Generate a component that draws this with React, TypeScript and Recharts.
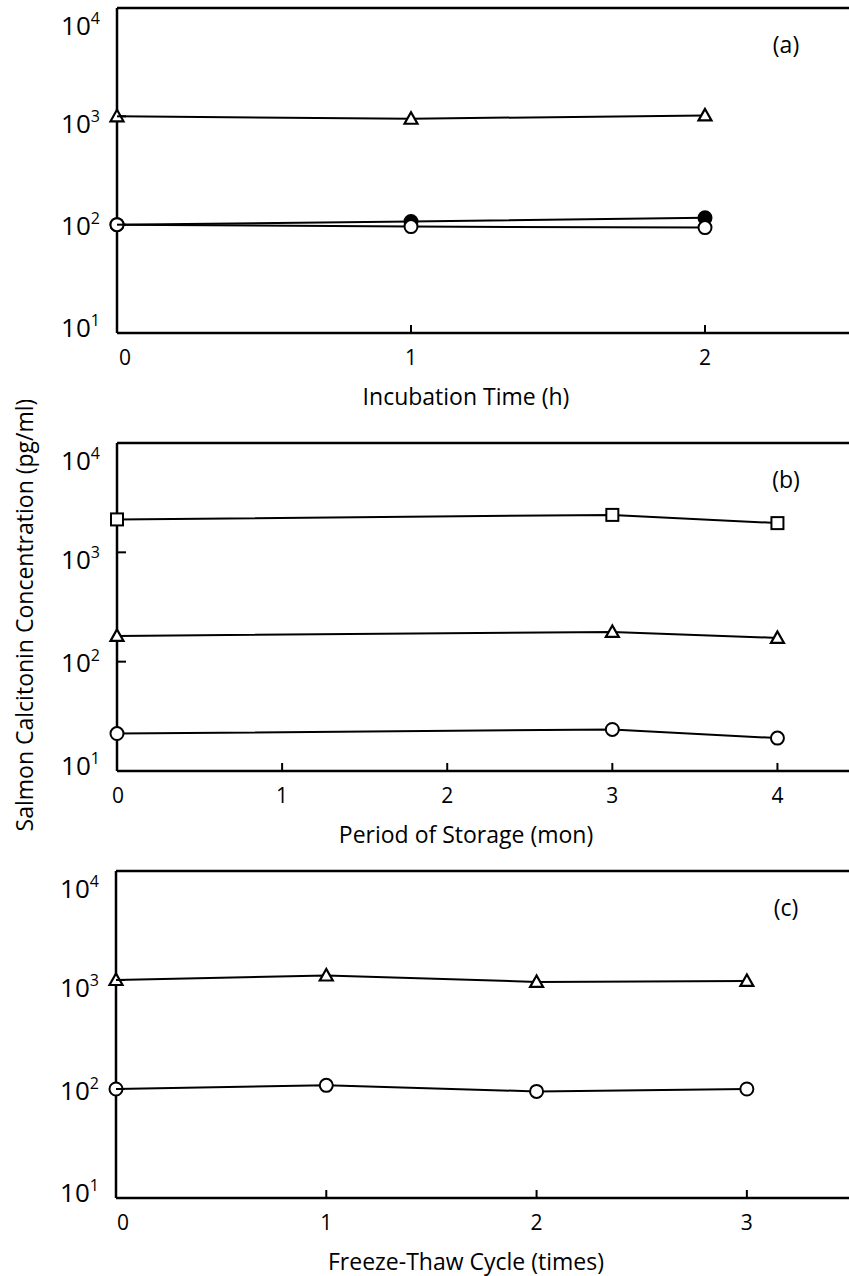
import React from "react";
import {
  Label,
  Line,
  LineChart,
  ReferenceLine,
  XAxis,
  YAxis,
} from "recharts";

// (a) incubation
const incubHours = [0, 1, 2];
const incubTriangle = [1000, 950, 1020];
const incubFilled = [100, 107, 116];
const incubOpen = [100, 96, 94];
const incubTicks = [0, 1, 2];

// (b) storage
const storageMonths = [0, 3, 4];
const storageSquare = [2000, 2200, 1850];
const storageTriangle = [172, 187, 165];
const storageCircle = [22, 24, 20];
const storageTicks = [0, 1, 2, 3, 4];

// (c) freeze-thaw
const thawCycles = [0, 1, 2, 3];
const thawTriangle = [1000, 1100, 960, 980];
const thawCircle = [100, 108, 95, 100];
const thawTicks = [0, 1, 2, 3];

const decadeTicks = [10, 100, 1000, 10000];

const FONT = "'Open Sans', 'DejaVu Sans', sans-serif";
const INK = "#000";

// the printed decade labels sit a little off their ticks
const labelNudge: Record<number, number> = { 10000: 17, 1000: 7, 100: 1, 10: -6 };

type Kind = "circle" | "filled" | "triangle" | "square";

function Marker({ cx, cy, kind }: { cx: number; cy: number; kind: Kind }) {
  if (cx == null || cy == null) return null;
  if (kind === "triangle") {
    return (
      <polygon
        points={`${cx},${cy - 6.5} ${cx - 6.5},${cy + 5} ${cx + 6.5},${cy + 5}`}
        fill="#fff"
        stroke={INK}
        strokeWidth={2.2}
        strokeLinejoin="miter"
      />
    );
  }
  if (kind === "square") {
    return (
      <rect x={cx - 6} y={cy - 6} width={12} height={12} fill="#fff" stroke={INK} strokeWidth={2} />
    );
  }
  return (
    <circle
      cx={cx}
      cy={cy}
      r={6.5}
      fill={kind === "filled" ? INK : "#fff"}
      stroke={INK}
      strokeWidth={2}
    />
  );
}

const dotOf = (kind: Kind) => (p: any) => (
  <Marker key={`${kind}-${p.index}`} cx={p.cx} cy={p.cy} kind={kind} />
);

function DecadeTick({ x, y, payload }: any) {
  const v = payload.value as number;
  const exp = Math.round(Math.log10(v));
  const inner = v > 10 && v < 10000;
  const base = y + (labelNudge[v] ?? 0) + 9.5;
  return (
    <g>
      {inner && <line x1={x} x2={x + 9} y1={y} y2={y} stroke={INK} strokeWidth={2} />}
      <text x={x - 17} y={base} textAnchor="end" fill={INK} fontFamily={FONT} fontSize={26}>
        <tspan>10</tspan>
        <tspan dy={-11} fontSize={16}>
          {exp}
        </tspan>
      </text>
    </g>
  );
}

const xTickOf = (zeroShift: number) => (props: any) => {
  const { x, y, payload } = props;
  const v = payload.value as number;
  return (
    <g key={`xt-${v}`}>
      {v !== 0 && <line x1={x} x2={x} y1={y} y2={y - 8} stroke={INK} strokeWidth={2} />}
      <text
        x={x + (v === 0 ? zeroShift : 0)}
        y={y + 32}
        textAnchor="middle"
        fill={INK}
        fontFamily={FONT}
        fontSize={21}
      >
        {v}
      </text>
    </g>
  );
};

const axisTitle = (text: string) => (p: any) => {
  const vb = p.viewBox || {};
  return (
    <text x={466} y={(vb.y ?? 0) + 72} textAnchor="middle" fill={INK} fontFamily={FONT} fontSize={23}>
      {text}
    </text>
  );
};

const panelTag = (tag: string) => (p: any) => {
  const vb = p.viewBox || {};
  return (
    <text x={786} y={(vb.y ?? 0) + 45} textAnchor="middle" fill={INK} fontFamily={FONT} fontSize={23}>
      {tag}
    </text>
  );
};

type SeriesDef = { key: string; kind: Kind };

function Panel({
  rows,
  series,
  xMax,
  xTicks,
  width,
  height,
  top,
  plotH,
  axisW,
  title,
  tag,
  zeroShift,
  yTitle,
}: {
  rows: any[];
  series: SeriesDef[];
  xMax: number;
  xTicks: number[];
  width: number;
  height: number;
  top: number;
  plotH: number;
  axisW: number;
  title: string;
  tag: string;
  zeroShift: number;
  yTitle?: string;
}) {
  const extra = 16;
  return (
    <LineChart
      width={width}
      height={height + extra}
      data={rows}
      margin={{ top, right: 0, left: 0, bottom: extra }}
    >
      <XAxis
        dataKey="x"
        type="number"
        domain={[0, xMax]}
        ticks={xTicks}
        height={height - top - plotH}
        axisLine={{ stroke: INK, strokeWidth: 2.5 }}
        tickLine={false}
        tickSize={0}
        tickMargin={0}
        tick={xTickOf(zeroShift)}
        interval={0}
      >
        <Label content={axisTitle(title)} />
      </XAxis>
      <YAxis
        type="number"
        scale="log"
        domain={[10, 10000]}
        ticks={decadeTicks}
        width={axisW}
        axisLine={{ stroke: INK, strokeWidth: 2.5 }}
        tickLine={false}
        tickSize={0}
        tickMargin={0}
        tick={<DecadeTick />}
        interval={0}
      >
        {yTitle && (
          <Label
            content={() => (
              <text
                x={24}
                y={215}
                transform="rotate(-90 24 215)"
                textAnchor="middle"
                dominantBaseline="central"
                fill={INK}
                fontFamily={FONT}
                fontSize={23}
              >
                {yTitle}
              </text>
            )}
          />
        )}
      </YAxis>
      <ReferenceLine y={10000} stroke={INK} strokeWidth={2.5} ifOverflow="visible">
        <Label content={panelTag(tag)} />
      </ReferenceLine>
      {series.map((s) => (
        <Line
          key={s.key}
          type="linear"
          dataKey={s.key}
          stroke={INK}
          strokeWidth={2}
          dot={dotOf(s.kind)}
          activeDot={false}
          isAnimationActive={false}
        />
      ))}
    </LineChart>
  );
}

export default function App() {
  const incubRows = incubHours.map((x, i) => ({
    x,
    tri: incubTriangle[i],
    filled: incubFilled[i],
    open: incubOpen[i],
  }));
  const storageRows = storageMonths.map((x, i) => ({
    x,
    sq: storageSquare[i],
    tri: storageTriangle[i],
    open: storageCircle[i],
  }));
  const thawRows = thawCycles.map((x, i) => ({
    x,
    tri: thawTriangle[i],
    open: thawCircle[i],
  }));

  return (
    <div
      style={{
        position: "absolute",
        left: 0,
        top: 0,
        width: 849,
        height: 1276,
        overflow: "hidden",
        background: "#fff",
        fontFamily: FONT,
      }}
    >
      <div style={{ position: "absolute", left: 0, top: 0 }}>
        <Panel
          rows={incubRows}
          series={[
            { key: "tri", kind: "triangle" },
            { key: "filled", kind: "filled" },
            { key: "open", kind: "circle" },
          ]}
          xMax={2.5}
          xTicks={incubTicks}
          width={852}
          height={400}
          top={8}
          plotH={325}
          axisW={117}
          title="Incubation Time (h)"
          tag="(a)"
          zeroShift={8}
        />
      </div>
      <div style={{ position: "absolute", left: 0, top: 400 }}>
        <Panel
          rows={storageRows}
          series={[
            { key: "sq", kind: "square" },
            { key: "tri", kind: "triangle" },
            { key: "open", kind: "circle" },
          ]}
          xMax={4.5}
          xTicks={storageTicks}
          width={860}
          height={440}
          top={43}
          plotH={328}
          axisW={117}
          title="Period of Storage (mon)"
          tag="(b)"
          zeroShift={1}
          yTitle="Salmon Calcitonin Concentration (pg/ml)"
        />
      </div>
      <div style={{ position: "absolute", left: 0, top: 840 }}>
        <Panel
          rows={thawRows}
          series={[
            { key: "tri", kind: "triangle" },
            { key: "open", kind: "circle" },
          ]}
          xMax={3.5}
          xTicks={thawTicks}
          width={852}
          height={420}
          top={31}
          plotH={327}
          axisW={116}
          title="Freeze-Thaw Cycle (times)"
          tag="(c)"
          zeroShift={7}
        />
      </div>
    </div>
  );
}
